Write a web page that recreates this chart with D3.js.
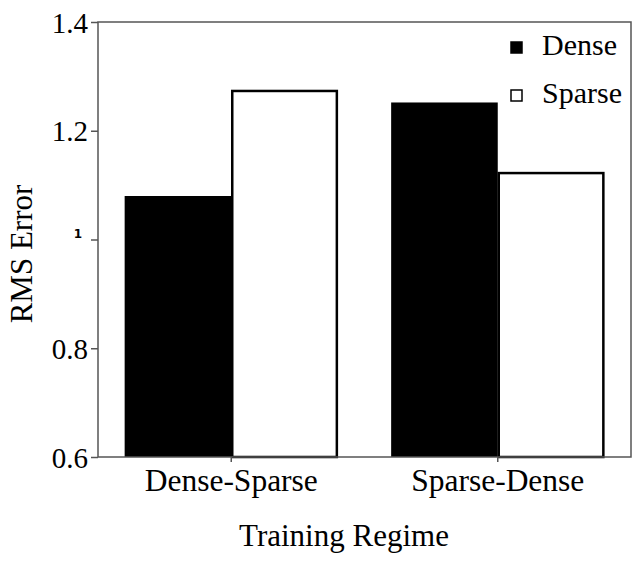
<!DOCTYPE html>
<html>
<head>
<meta charset="utf-8">
<script src="https://cdn.jsdelivr.net/npm/d3@7"></script>
<style>
html,body{margin:0;padding:0;background:#fff;}
svg{display:block;}
</style>
</head>
<body>
<svg id="chart" width="641" height="564" font-family="Liberation Serif, Times New Roman, serif"></svg>
<script>
const categories = ["Dense-Sparse", "Sparse-Dense"];
const seriesNames = ["Dense", "Sparse"];
const denseValues = [1.08, 1.252];
const sparseValues = [1.275, 1.124];
const yTicks = [0.6, 0.8, 1.0, 1.2, 1.4];
const yTickLabels = ["0.6", "0.8", "1", "1.2", "1.4"];
const xTitle = "Training Regime";
const yTitle = "RMS Error";

const svg = d3.select("#chart");
const m = {left: 98, right: 10, top: 22, bottom: 107};
const W = 641, H = 564;
const iw = W - m.left - m.right, ih = H - m.top - m.bottom;
const g = svg.append("g").attr("transform", `translate(${m.left},${m.top})`);

const x0 = d3.scaleBand().domain(categories).range([0, iw]).paddingInner(0.2).paddingOuter(0.1);
const x1 = d3.scaleBand().domain(seriesNames).range([0, x0.bandwidth()]);
const y = d3.scaleLinear().domain([0.6, 1.4]).range([ih, 0]);
const color = {Dense: "#000", Sparse: "#fff"};

const data = categories.map((c, i) => ({cat: c, vals: [
  {s: "Dense", v: denseValues[i]}, {s: "Sparse", v: sparseValues[i]}]}));

const grp = g.selectAll("g.grp").data(data).join("g")
  .attr("transform", d => `translate(${x0(d.cat)},0)`);
grp.selectAll("rect").data(d => d.vals).join("rect")
  .attr("x", d => x1(d.s) + (d.s === "Sparse" ? 1 : 0))
  .attr("y", d => y(d.v) + (d.s === "Sparse" ? 1 : 0))
  .attr("width", d => x1.bandwidth() - (d.s === "Sparse" ? 2 : 0))
  .attr("height", d => ih - y(d.v) - (d.s === "Sparse" ? 1 : 0))
  .attr("fill", d => color[d.s])
  .attr("stroke", d => d.s === "Sparse" ? "#000" : "none")
  .attr("stroke-width", 2.5);

// frame
g.append("rect").attr("x", 0).attr("y", 0).attr("width", iw).attr("height", ih)
  .attr("fill", "none").attr("stroke", "#555").attr("stroke-width", 1.5);

// y axis
const yAxis = g.append("g").call(d3.axisLeft(y).tickValues(yTicks)
  .tickFormat((d, i) => yTickLabels[i]).tickSize(7).tickPadding(3));
yAxis.attr("font-family", null);
yAxis.select(".domain").remove();
yAxis.selectAll("line").attr("stroke", "#555").attr("stroke-width", 1.5);
yAxis.selectAll("text").attr("font-size", 29).attr("fill", "#000").attr("dy", "0.35em");
yAxis.selectAll("text").filter((d, i) => yTickLabels[i] === "1")
  .attr("font-size", 12).attr("font-family", "DejaVu Sans").attr("font-weight", "bold")
  .attr("dx", -6).attr("dy", "-0.2em");

// x axis
const xAxis = g.append("g").attr("transform", `translate(0,${ih})`)
  .call(d3.axisBottom(x0).tickSize(5).tickPadding(5));
xAxis.attr("font-family", null);
xAxis.select(".domain").remove();
xAxis.selectAll("line").attr("stroke", "#555").attr("stroke-width", 1.5);
xAxis.selectAll("text").attr("font-size", 31.5).attr("fill", "#000").attr("dy", "0.75em");

// titles
svg.append("text").attr("x", 344).attr("y", 546).attr("text-anchor", "middle")
  .attr("font-size", 31).text(xTitle);
svg.append("text").attr("transform", "translate(32,254) rotate(-90)").attr("text-anchor", "middle")
  .attr("font-size", 31).text(yTitle);

// legend
const leg = svg.append("g");
seriesNames.forEach((s, i) => {
  const ly = 47 + i * 48;
  leg.append("rect").attr("x", 511).attr("y", ly - 5).attr("width", 11).attr("height", 11)
    .attr("fill", color[s]).attr("stroke", "#000").attr("stroke-width", 1.5);
  leg.append("text").attr("x", 542).attr("y", ly + 8).attr("font-size", 30).text(s);
});
</script>
</body>
</html>
